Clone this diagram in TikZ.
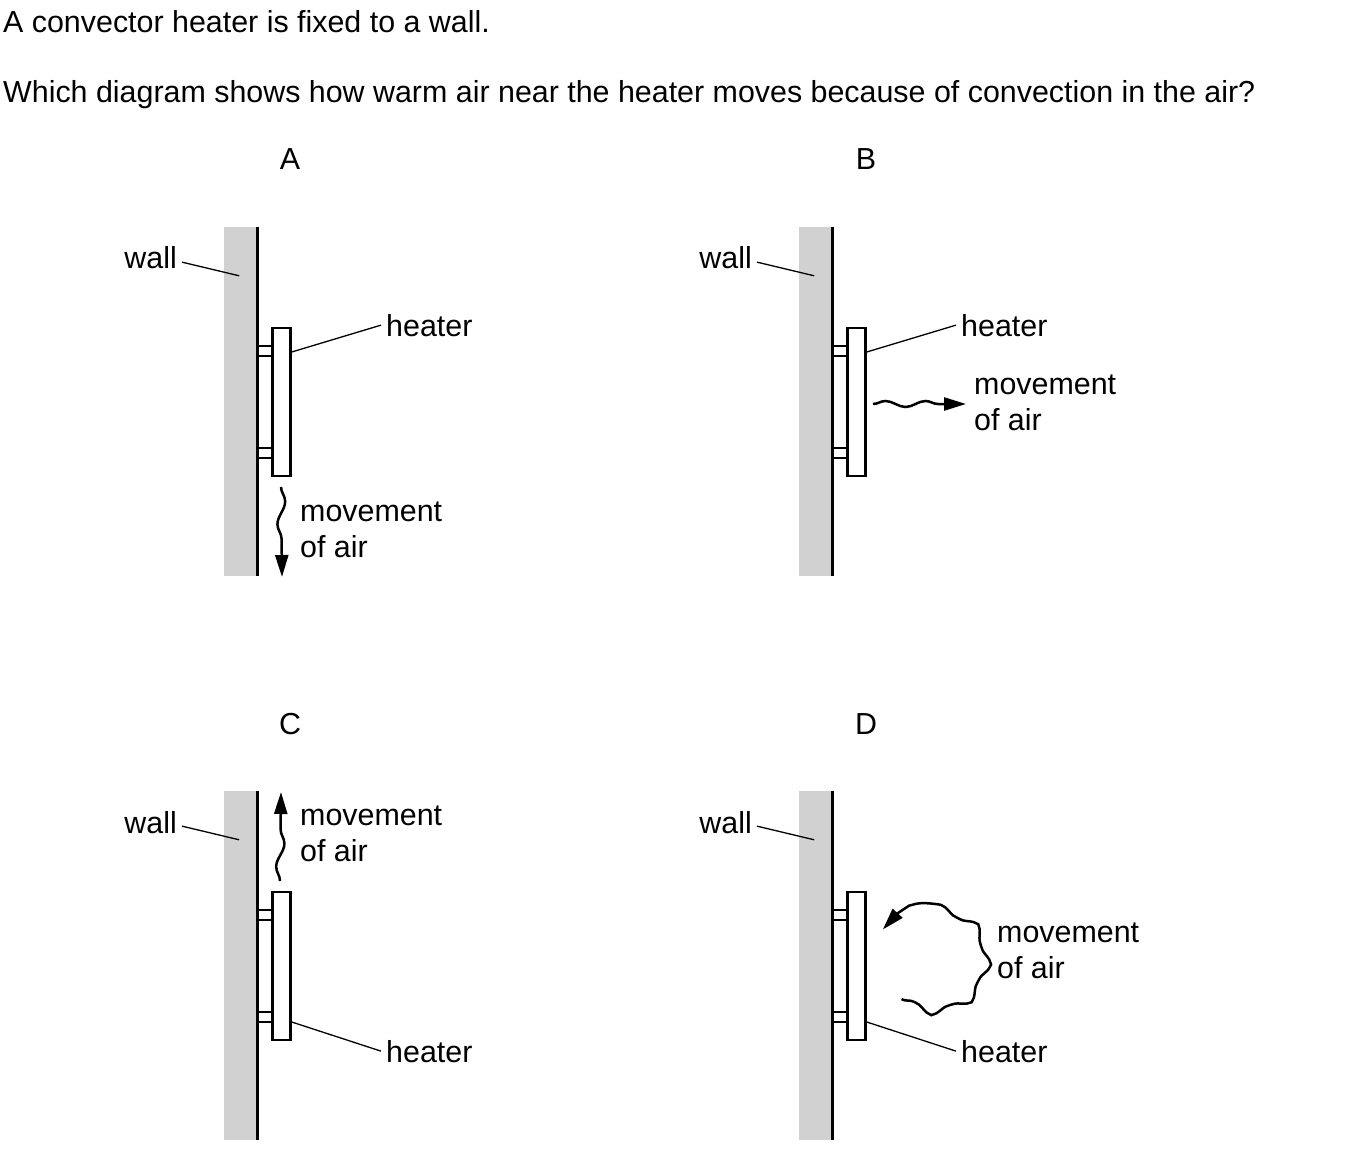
\documentclass[tikz,border=0pt]{standalone}
\usepackage{fontspec}
\setmainfont{Liberation Sans}
\usetikzlibrary{arrows.meta,decorations.pathmorphing}
\definecolor{wallgray}{RGB}{209,209,209}

\begin{document}
\begin{tikzpicture}[x=1pt, y=-1pt,
    every node/.style={font=\fontsize{30.4}{36.5}\selectfont, inner sep=0pt},
    wall/.style={fill=wallgray, minimum width=33pt, minimum height=349pt},
    wallline/.style={line width=3pt},
    heater/.style={draw, line width=2.5pt, minimum width=18pt, minimum height=148pt},
    bracket/.style={line width=2pt},
    leader/.style={line width=1.3pt},
    tag/.style={inner xsep=5pt},
    caption/.style={inner xsep=5pt, align=left},
    airflow/.style={-{Triangle[length=22pt,width=13pt]}, line width=2.5pt, decorate,
        decoration={snake, amplitude=4pt, segment length=46pt, post length=22pt}}]
    \useasboundingbox (0,0) rectangle (1354,1150);

    % question
    \node (q1) at (3,33) [anchor=base west] {A convector heater is fixed to a wall.};
    \node (q2) at (3,103) [anchor=base west] {Which diagram shows how warm air near the heater moves because of convection in the air?};

    % diagram A
    \node (optA) at (290,170) [anchor=base] {A};
    \node (wallA) at (240.5,401.5) [wall] {};
    \draw[wallline] (wallA.north east) -- (wallA.south east);
    \node (heaterA) at (281.5,402) [heater] {};
    \draw[bracket] ([yshift=-19pt]heaterA.north west) -- +(-14,0);
    \draw[bracket] ([yshift=-29pt]heaterA.north west) -- +(-14,0);
    \draw[bracket] ([yshift=-121pt]heaterA.north west) -- +(-14,0);
    \draw[bracket] ([yshift=-131pt]heaterA.north west) -- +(-14,0);
    \node (walltagA) at (182,269) [tag,anchor=base east] {wall};
    \node (heattagA) at (381,336) [tag,anchor=base west] {heater};
    \draw[leader] ([yshift=-4pt]walltagA.east) -- ([xshift=-18pt,yshift=-49pt]wallA.north east);
    \draw[leader] ([yshift=50pt]heaterA.east) -- (heattagA.west);
    \coordinate (airA-from) at (281,487);
    \coordinate (airA-to) at (282,577);
    \draw[airflow] (airA-from) -- (airA-to);
    \node (airtagA) at (295,530) [caption,anchor=west] {movement\\of air};

    % diagram B
    \node (optB) at (866,170) [anchor=base] {B};
    \node (wallB) at (815.5,401.5) [wall] {};
    \draw[wallline] (wallB.north east) -- (wallB.south east);
    \node (heaterB) at (856.5,402) [heater] {};
    \draw[bracket] ([yshift=-19pt]heaterB.north west) -- +(-14,0);
    \draw[bracket] ([yshift=-29pt]heaterB.north west) -- +(-14,0);
    \draw[bracket] ([yshift=-121pt]heaterB.north west) -- +(-14,0);
    \draw[bracket] ([yshift=-131pt]heaterB.north west) -- +(-14,0);
    \node (walltagB) at (757,269) [tag,anchor=base east] {wall};
    \node (heattagB) at (956,336) [tag,anchor=base west] {heater};
    \draw[leader] ([yshift=-4pt]walltagB.east) -- ([xshift=-18pt,yshift=-49pt]wallB.north east);
    \draw[leader] ([yshift=50pt]heaterB.east) -- (heattagB.west);
    \coordinate (airB-from) at (873,404);
    \coordinate (airB-to) at (966,404);
    \draw[airflow,decoration={segment length=40pt,amplitude=3pt}] (airB-from) -- (airB-to);
    \node (airtagB) at (969,403) [caption,anchor=west] {movement\\of air};

    % diagram C
    \node (optC) at (290,734) [anchor=base] {C};
    \node (wallC) at (240.5,965.5) [wall] {};
    \draw[wallline] (wallC.north east) -- (wallC.south east);
    \node (heaterC) at (281.5,966) [heater] {};
    \draw[bracket] ([yshift=-19pt]heaterC.north west) -- +(-14,0);
    \draw[bracket] ([yshift=-29pt]heaterC.north west) -- +(-14,0);
    \draw[bracket] ([yshift=-121pt]heaterC.north west) -- +(-14,0);
    \draw[bracket] ([yshift=-131pt]heaterC.north west) -- +(-14,0);
    \node (walltagC) at (182,833) [tag,anchor=base east] {wall};
    \node (heattagC) at (381,1062) [tag,anchor=base west] {heater};
    \draw[leader] ([yshift=-4pt]walltagC.east) -- ([xshift=-18pt,yshift=-49pt]wallC.north east);
    \draw[leader] ([yshift=-56pt]heaterC.east) -- (heattagC.west);
    \coordinate (airC-from) at (280,881);
    \coordinate (airC-to) at (281,792);
    \draw[airflow] (airC-from) -- (airC-to);
    \node (airtagC) at (295,834) [caption,anchor=west] {movement\\of air};

    % diagram D
    \node (optD) at (866,734) [anchor=base] {D};
    \node (wallD) at (815.5,965.5) [wall] {};
    \draw[wallline] (wallD.north east) -- (wallD.south east);
    \node (heaterD) at (856.5,966) [heater] {};
    \draw[bracket] ([yshift=-19pt]heaterD.north west) -- +(-14,0);
    \draw[bracket] ([yshift=-29pt]heaterD.north west) -- +(-14,0);
    \draw[bracket] ([yshift=-121pt]heaterD.north west) -- +(-14,0);
    \draw[bracket] ([yshift=-131pt]heaterD.north west) -- +(-14,0);
    \node (walltagD) at (757,833) [tag,anchor=base east] {wall};
    \node (heattagD) at (956,1062) [tag,anchor=base west] {heater};
    \draw[leader] ([yshift=-4pt]walltagD.east) -- ([xshift=-18pt,yshift=-49pt]wallD.north east);
    \draw[leader] ([yshift=-56pt]heaterD.east) -- (heattagD.west);
    \coordinate (loopD) at (927,955);
    \draw[airflow,decoration={segment length=40pt,amplitude=4pt}] ([shift={(120:51)}]loopD) arc[start angle=120, end angle=-150, radius=51];
    \node (airtagD) at (992,951) [caption,anchor=west] {movement\\of air};
\end{tikzpicture}
\end{document}
